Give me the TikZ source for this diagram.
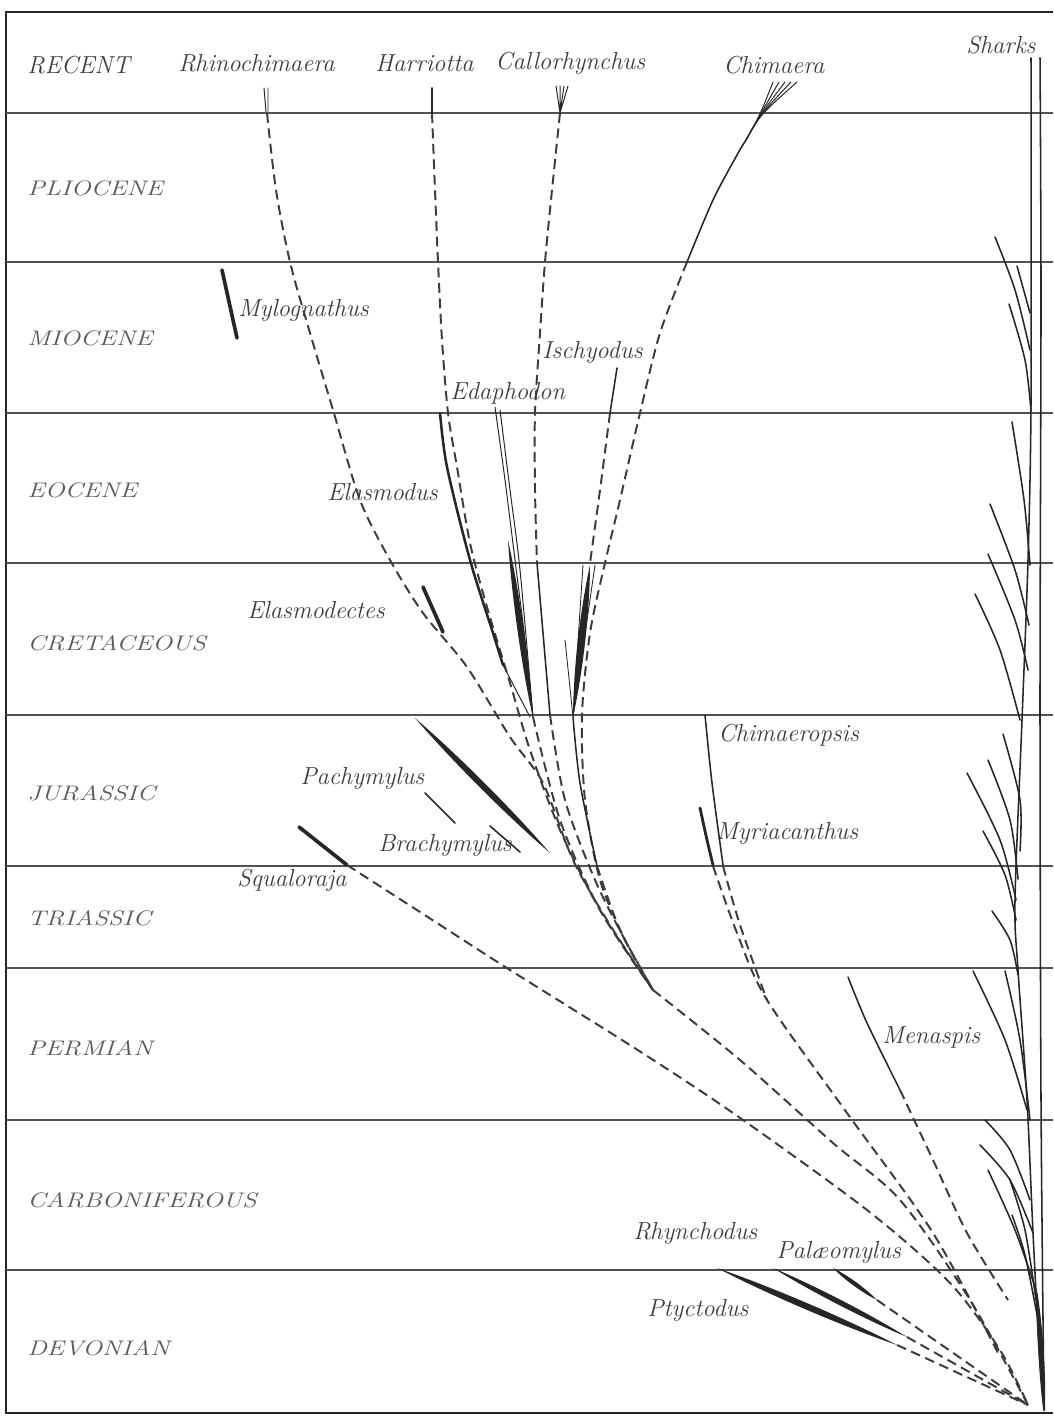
\documentclass[tikz,border=0pt]{standalone}
\usepackage{tikz}
\usetikzlibrary{calc}
\definecolor{ink}{gray}{0.15}
\definecolor{print}{gray}{0.24}
\tikzset{
    period/.style={anchor=west, inner xsep=0pt, text=print!85, font=\fontsize{15}{18}\selectfont\itshape},
    genus/.style={anchor=west, inner xsep=0pt, text=print, font=\fontsize{17.5}{20}\selectfont\itshape},
    era/.style={draw=ink!80, line width=0.9pt},
    frame/.style={draw=ink, line width=1.6pt},
    stem/.style={draw=ink, line width=1.1pt, line cap=round},
    heavy/.style={draw=ink, line width=2.6pt, line cap=round},
    guess/.style={draw=ink!90, line width=1.4pt, dash pattern=on 7pt off 4pt}
}
\newcommand\wide[1]{\scalebox{1.25}[1]{#1}}
\newcommand\spindle[3]{\fill[ink] #1 .. controls ($#1!0.3!#2!#3!90:#2$) and ($#1!0.7!#2!#3!90:#2$) .. #2 .. controls ($#1!0.7!#2!#3!-90:#2$) and ($#1!0.3!#2!#3!-90:#2$) .. #1 -- cycle;}

\begin{document}
\begin{tikzpicture}[x=0.025cm, y=-0.025cm]
    \useasboundingbox (0,0) rectangle (1053,1418);
    \draw[frame] (1053,12) -- (6,12) -- (6,1413) -- (1053,1413);
    \foreach \y in {113,262,413,563,715,866,968,1120,1270}
        \draw[era] (6,\y) -- (1053,\y);

    \coordinate (root) at (1028,1405);
    \coordinate (fork) at (653,990);

    \node[genus] (recent) at (27,65) {RECENT};
    \node[period] (pliocene) at (27,188) {\wide{PLIOCENE}};
    \node[period] (miocene) at (27,338) {\wide{MIOCENE}};
    \node[period] (eocene) at (27,490) {\wide{EOCENE}};
    \node[period] (cretaceous) at (27,643) {\wide{CRETACEOUS}};
    \node[period] (jurassic) at (27,793) {\wide{JURASSIC}};
    \node[period] (triassic) at (27,918) {\wide{TRIASSIC}};
    \node[period] (permian) at (27,1048) {\wide{PERMIAN}};
    \node[period] (carboniferous) at (27,1200) {\wide{CARBONIFEROUS}};
    \node[period] (devonian) at (27,1348) {\wide{DEVONIAN}};

    \node[genus] (rhinochimaera) at (178,63) {Rhinochimaera};
    \node[genus] (harriotta) at (375,63) {Harriotta};
    \node[genus] (callorhynchus) at (495,63) {Callorhynchus};
    \node[genus] (chimaera) at (723,65) {Chimaera};
    \node[genus] (sharks) at (966,45) {Sharks};
    \node[genus] (mylognathus) at (238,310) {Mylognathus};
    \node[genus] (ischyodus) at (542,352) {Ischyodus};
    \node[genus] (edaphodon) at (450,393) {Edaphodon};
    \node[genus] (elasmodus) at (327,492) {Elasmodus};
    \node[genus] (elasmodectes) at (247,610) {Elasmodectes};
    \node[genus] (chimaeropsis) at (718,735) {Chimaeropsis};
    \node[genus] (pachymylus) at (300,778) {Pachymylus};
    \node[genus] (brachymylus) at (378,845) {Brachymylus};
    \node[genus] (myriacanthus) at (716,833) {Myriacanthus};
    \node[genus] (squaloraja) at (237,880) {Squaloraja};
    \node[genus] (menaspis) at (882,1037) {Menaspis};
    \node[genus] (rhynchodus) at (633,1233) {Rhynchodus};
    \node[genus] (palaeomylus) at (776,1252) {Pal\ae omylus};
    \node[genus] (ptyctodus) at (647,1310) {Ptyctodus};

    % living genera
    \draw[stem, line width=0.7pt] (264,88) -- (266,112) (268,88) -- (268,112);
    \draw[guess] plot[smooth] coordinates {(267,113) (276,190) (290,262) (310,333) (333,410) (360,500) (390,560) (423,613) (467,667) (510,737) (543,783) (573,860) (610,925) (fork)};
    \draw[stem] (432,88) -- (432,113);
    \draw[guess] plot[smooth] coordinates {(432,113) (435,190) (438,262) (442,340) (448,413) (457,467) (470,543) (487,607) (510,683) (530,750) (560,830) (600,910) (fork)};
    \draw[stem, line width=0.7pt] (560,113) -- (556,86) (560,113) -- (560,86) (560,113) -- (564,86) (560,113) -- (568,86);
    \draw[guess] plot[smooth] coordinates {(560,113) (552,190) (545,262) (540,333) (535,413) (535,490) (537,563)};
    \draw[stem] plot[smooth] coordinates {(537,563) (543,633) (550,715)};
    \draw[guess] plot[smooth] coordinates {(550,715) (565,800) (595,880) (625,940) (fork)};
    \foreach \x in {773,779,785,791,797}
        \draw[stem, line width=0.7pt] (746,140) .. controls (760,115) .. (\x,82);
    \draw[stem] plot[smooth] coordinates {(746,140) (737,155) (713,200) (687,262)};
    \draw[guess] plot[smooth] coordinates {(687,262) (660,333) (640,413) (620,500) (605,563) (590,633) (582,715) (585,800) (600,880) (625,940) (fork)};

    % fossil genera
    \draw[heavy] (222,270) -- (237,338);
    \draw[stem] (617,368) -- (610,413);
    \draw[guess] plot[smooth] coordinates {(610,413) (600,490) (590,563)};
    \spindle{(590,565)}{(573,717)}{3.5pt}
    \draw[stem, line width=0.6pt] (583,565) -- (573,717) (595,565) -- (573,717) (565,640) -- (573,717);
    \draw[stem] plot[smooth] coordinates {(573,717) (580,783) (597,866)};
    \draw[guess] plot[smooth] coordinates {(597,866) (620,930) (fork)};
    \draw[stem, line width=0.7pt] plot[smooth] coordinates {(495,407) (505,480) (515,560) (525,640) (533,717)};
    \draw[stem, line width=0.7pt] plot[smooth] coordinates {(500,410) (510,490) (520,570) (533,717)};
    \spindle{(508,540)}{(533,718)}{3pt}
    \draw[guess] plot[smooth] coordinates {(533,717) (560,820) (600,910) (fork)};
    \draw[stem, line width=1.8pt] plot[smooth] coordinates {(440,413) (447,467) (470,560) (493,633) (503,665)};
    \draw[stem, line width=0.7pt] (503,665) -- (530,717);
    \draw[heavy] (423,587) -- (443,632);
    \spindle{(415,718)}{(550,853)}{3pt}
    \draw[stem] (425,793) -- (455,823);
    \draw[stem] (490,826) -- (520,852);
    \draw[heavy] (299,827) -- (347,865);
    \draw[guess] plot[smooth] coordinates {(347,865) (420,912) (510,970) (633,1047) (733,1113) (867,1210) (950,1283) (1000,1350) (root)};
    \draw[stem] plot[smooth] coordinates {(705,715) (712,783) (723,865)};
    \draw[stem, line width=2pt] plot[smooth] coordinates {(700,808) (707,840) (713,865)};
    \draw[guess] plot[smooth] coordinates {(713,866) (737,933) (767,1000) (847,1113) (933,1233) (998,1353)};
    \draw[guess] plot[smooth] coordinates {(723,866) (740,925) (767,1000)};
    \draw[guess] plot[smooth] coordinates {(fork) (740,1060) (833,1143) (900,1200) (970,1300) (root)};
    \draw[stem] plot[smooth] coordinates {(848,977) (867,1023) (900,1090)};
    \draw[guess] plot[smooth] coordinates {(900,1090) (933,1160) (967,1233) (1008,1300)};
    \spindle{(717,1268)}{(897,1345)}{3pt}
    \spindle{(773,1268)}{(907,1337)}{2.5pt}
    \spindle{(833,1268)}{(877,1300)}{2pt}
    \draw[guess] (897,1345) -- (root);
    \draw[guess] (907,1337) -- (root);
    \draw[guess] (877,1300) -- (root);

    % sharks
    \draw[stem] plot[smooth] coordinates {(1040,58) (1041,300) (1040,700) (1041,1100) (1044,1410)};
    \draw[stem] plot[smooth] coordinates {(1031,58) (1031,400) (1028,560) (1022,720) (1015,900) (1018,970) (1027,1100) (1033,1233) (1040,1367) (1044,1410)};
    \spindle{(1037,1290)}{(1045,1412)}{2.5pt}
    \draw[stem] plot[smooth] coordinates {(995,237) (1015,290) (1030,350)};
    \draw[stem] plot[smooth] coordinates {(1017,266) (1030,313)};
    \draw[stem] plot[smooth] coordinates {(1009,304) (1025,360) (1031,411)};
    \draw[stem] plot[smooth] coordinates {(1012,422) (1024,500) (1030,565)};
    \draw[stem] plot[smooth] coordinates {(990,504) (1015,570) (1029,625)};
    \draw[stem] plot[smooth] coordinates {(988,554) (1015,620) (1028,670)};
    \draw[stem] plot[smooth] coordinates {(975,594) (1000,650) (1020,720)};
    \draw[stem] plot[smooth] coordinates {(1003,734) (1020,800) (1020,851)};
    \draw[stem] plot[smooth] coordinates {(988,760) (1010,820) (1018,879)};
    \draw[stem] plot[smooth] coordinates {(967,773) (1000,840) (1016,900)};
    \draw[stem] plot[smooth] coordinates {(983,831) (1005,875) (1016,920)};
    \draw[stem] plot[smooth] coordinates {(992,911) (1010,940) (1018,975)};
    \draw[stem] plot[smooth] coordinates {(973,971) (1005,1040) (1027,1110)};
    \draw[stem] plot[smooth] coordinates {(1005,971) (1020,1040) (1030,1120)};
    \draw[stem] plot[smooth] coordinates {(985,1120) (1010,1150) (1030,1200)};
    \draw[stem] plot[smooth] coordinates {(980,1145) (1010,1180) (1033,1233)};
    \draw[stem] plot[smooth] coordinates {(988,1170) (1015,1230) (1036,1290)};
    \draw[stem] plot[smooth] coordinates {(1010,1180) (1025,1230) (1036,1300)};
    \draw[stem] plot[smooth] coordinates {(1012,1215) (1025,1255) (1038,1320)};
\end{tikzpicture}
\end{document}
